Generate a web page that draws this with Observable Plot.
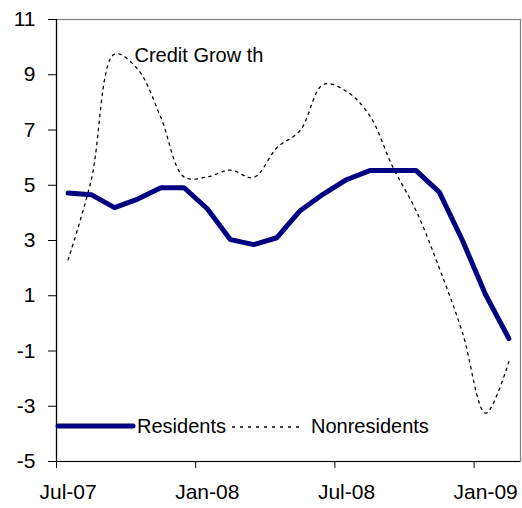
<!DOCTYPE html>
<html>
<head>
<meta charset="utf-8">
<script src="https://cdn.jsdelivr.net/npm/d3@7"></script>
<script src="https://cdn.jsdelivr.net/npm/@observablehq/plot@0.6"></script>
<style>
  html, body { margin: 0; padding: 0; background: #fff; }
  #wrap { position: relative; width: 522px; height: 508px; }
  #legend { position: absolute; left: 0; top: 0; pointer-events: none; }
</style>
</head>
<body>
<div id="wrap"></div>
<script>
const months = ["Jul-07","Aug-07","Sep-07","Oct-07","Nov-07","Dec-07","Jan-08","Feb-08","Mar-08","Apr-08","May-08","Jun-08","Jul-08","Aug-08","Sep-08","Oct-08","Nov-08","Dec-08","Jan-09","Feb-09"];
const residents = [4.72, 4.66, 4.19, 4.50, 4.91, 4.91, 4.15, 3.03, 2.85, 3.10, 4.08, 4.68, 5.20, 5.53, 5.53, 5.53, 4.75, 3.00, 1.03, -0.55];
const nonresidents = [2.3, 5.2, 9.75, 9.2, 7.45, 5.3, 5.3, 5.55, 5.28, 6.36, 6.98, 8.65, 8.4, 7.52, 5.65, 4.08, 2.0, -0.34, -3.25, -1.38];
const yTicks = [-5, -3, -1, 1, 3, 5, 7, 9, 11];
const xLabels = ["Jul-07", "Jan-08", "Jul-08", "Jan-09"];
const seriesNames = ["Residents", "Nonresidents"];
const titleText = "Credit Grow th";

const labelIdx = xLabels.map(l => months.indexOf(l));
const boundaries = labelIdx.map(i => i - 0.5);
const resData = months.map((m, i) => ({i, v: residents[i]}));
const nonData = months.map((m, i) => ({i, v: nonresidents[i]}));

const chart = Plot.plot({
  width: 522,
  height: 508,
  marginLeft: 56,
  marginRight: 2,
  marginTop: 19,
  marginBottom: 47,
  style: { fontFamily: "'Liberation Sans', Arial, sans-serif", fontSize: "21px", color: "#000", background: "#fff" },
  x: { domain: [-0.5, months.length - 0.5], axis: null },
  y: { domain: [-5, 11], axis: null },
  marks: [
    Plot.frame({ stroke: "#808080", strokeWidth: 1.2 }),
    Plot.ruleX([-0.5], { stroke: "#000", strokeWidth: 1.2 }),
    Plot.ruleY([-5], { stroke: "#000", strokeWidth: 1.2 }),
    Plot.axisY({ ticks: yTicks, label: null, tickSize: 8, tickPadding: 13, tickFormat: d => String(d), fontSize: 21, stroke: "#000" }),
    Plot.axisX({ ticks: boundaries, label: null, tickSize: 7, tickFormat: () => "", stroke: "#000" }),
    Plot.axisX({ ticks: labelIdx, label: null, tickSize: 0, tickPadding: 23, tickFormat: d => months[d], fontSize: 21 }),
    Plot.line(nonData, { x: "i", y: "v", stroke: "#000", strokeWidth: 1.3, strokeDasharray: "2.5,4.5", curve: "catmull-rom" }),
    Plot.line(resData, { x: "i", y: "v", stroke: "#000080", strokeWidth: 5, strokeLinejoin: "round" }),
    Plot.text([titleText], { frameAnchor: "top-left", dx: 78, dy: 28, textAnchor: "start", fontSize: 20, fill: "#000" })
  ]
});
const wrap = document.getElementById("wrap");
wrap.appendChild(chart);

// Legend overlay inside plot area
const lg = d3.create("svg").attr("id", "legend").attr("width", 522).attr("height", 508)
  .style("font-family", "'Liberation Sans', Arial, sans-serif").style("font-size", "20px");
lg.append("line").attr("x1", 58).attr("x2", 133).attr("y1", 426).attr("y2", 426)
  .attr("stroke", "#000080").attr("stroke-width", 5).attr("stroke-linecap", "round");
lg.append("text").attr("x", 137).attr("y", 433).text(seriesNames[0]);
lg.append("line").attr("x1", 232).attr("x2", 304).attr("y1", 427).attr("y2", 427)
  .attr("stroke", "#000").attr("stroke-width", 1.3).attr("stroke-dasharray", "3,5");
lg.append("text").attr("x", 311).attr("y", 433).text(seriesNames[1]);
wrap.appendChild(lg.node());
</script>
</body>
</html>
